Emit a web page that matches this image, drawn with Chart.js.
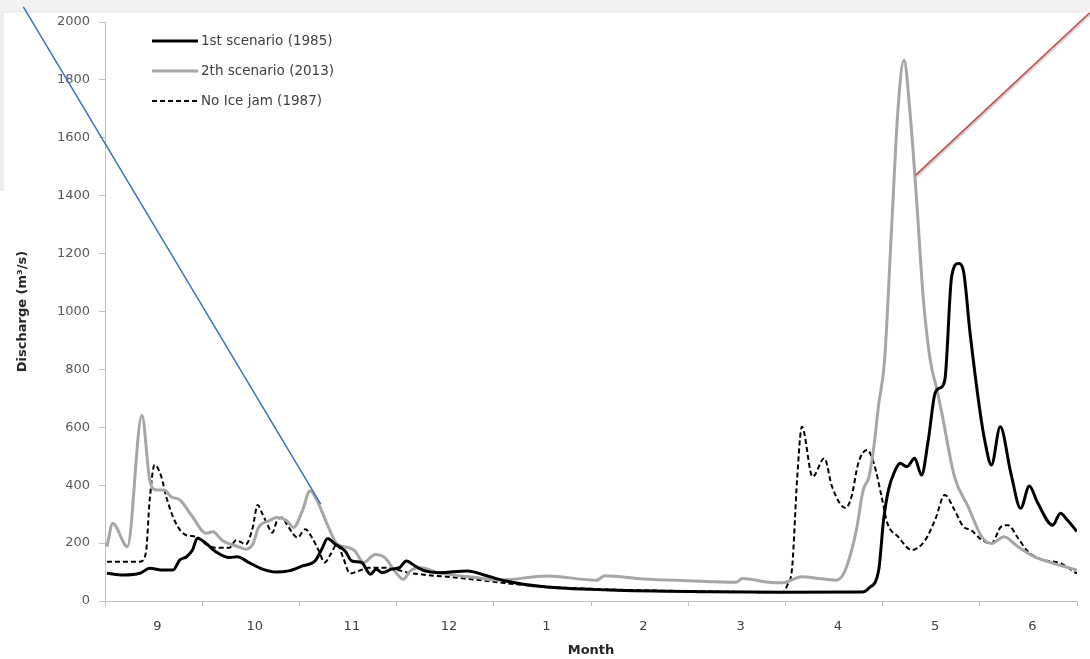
<!DOCTYPE html>
<html>
<head>
<meta charset="utf-8">
<script src="https://cdn.jsdelivr.net/npm/chart.js@4.4.1/dist/chart.umd.min.js"></script>
<style>
html,body{margin:0;padding:0;background:#fff;}
#wrap{position:relative;width:1090px;height:659px;overflow:hidden;background:#fff;}
#topband{position:absolute;left:0;top:0;width:1090px;height:11px;background:#f2f2f2;box-shadow:0 1px 2px rgba(0,0,0,0.12);}
#leftband{position:absolute;left:0;top:11px;width:4px;height:180px;background:#ededed;}
#c{position:absolute;left:0;top:0;}
</style>
</head>
<body>
<div id="wrap">
  <div id="topband"></div>
  <div id="leftband"></div>
  <canvas id="c" width="1090" height="659"></canvas>
</div>
<script>
// ---- DATA (x = months since start of September, y = discharge m3/s) ----
const monthLabels = ['9','10','11','12','1','2','3','4','5','6'];

const m1985 = [0.02,0.19,0.36,0.46,0.60,0.70,0.77,0.84,0.90,0.95,1.04,1.14,1.28,1.36,1.48,1.62,1.76,1.89,2.03,2.16,2.23,2.29,2.37,2.47,2.54,2.64,2.73,2.79,2.85,2.95,3.03,3.10,3.19,3.29,3.43,3.73,3.90,4.11,4.52,5.19,6.22,6.97,7.79,7.86,7.96,8.01,8.06,8.13,8.18,8.25,8.33,8.40,8.47,8.54,8.59,8.64,8.71,8.78,8.83,8.90,9.00,9.05,9.12,9.21,9.32,9.42,9.51,9.59,9.75,9.83,9.90,10.0];
const q1985 = [96,90,96,113,107,107,142,153,176,217,199,170,150,153,133,110,100,104,121,138,179,216,196,173,138,133,92,110,98,110,115,138,121,104,98,104,90,70,49,38,32,30,31,45,107,280,383,452,476,464,493,435,556,718,736,763,1120,1166,1143,925,660,556,470,602,441,320,397,343,262,303,280,240];

const m2013 = [0.02,0.08,0.23,0.38,0.46,0.53,0.61,0.68,0.77,0.90,1.04,1.11,1.21,1.35,1.45,1.52,1.58,1.69,1.77,1.87,1.94,2.03,2.11,2.20,2.30,2.39,2.51,2.57,2.66,2.78,2.88,2.98,3.07,3.14,3.25,3.43,3.83,4.04,4.55,5.06,5.14,5.54,6.00,6.49,6.56,6.83,6.97,7.17,7.34,7.52,7.58,7.63,7.73,7.80,7.86,7.91,7.96,8.02,8.09,8.16,8.22,8.28,8.35,8.42,8.49,8.56,8.61,8.74,8.88,9.02,9.12,9.25,9.39,9.56,9.76,10.0];
const q2013 = [188,268,188,642,418,383,383,360,349,291,234,239,208,190,179,196,254,277,288,277,254,311,381,334,254,196,184,173,133,161,150,104,75,104,115,98,80,72,86,72,87,76,70,65,78,65,63,84,78,72,84,118,245,383,429,533,680,830,1271,1707,1869,1696,1385,1040,832,729,648,429,326,222,199,222,188,153,130,107];

const m1987 = [0.02,0.36,0.42,0.46,0.51,0.58,0.63,0.73,0.83,0.94,1.04,1.14,1.28,1.35,1.45,1.52,1.57,1.62,1.67,1.72,1.77,1.82,1.89,1.98,2.06,2.13,2.20,2.26,2.32,2.39,2.45,2.52,2.61,2.71,2.88,2.98,3.12,3.25,3.60,3.94,4.11,4.52,5.19,6.22,6.97,7.02,7.07,7.12,7.17,7.28,7.40,7.48,7.62,7.68,7.75,7.84,7.91,7.99,8.05,8.16,8.30,8.44,8.54,8.64,8.74,8.83,8.91,9.02,9.12,9.22,9.29,9.39,9.49,9.63,9.83,10.0];
const q1987 = [136,136,165,349,470,429,360,268,228,222,196,184,184,210,196,254,332,300,265,236,277,288,254,219,248,219,173,133,161,196,150,95,104,115,115,110,98,92,81,69,62,50,40,33,30,55,118,418,602,429,493,395,321,360,476,522,476,360,268,222,176,211,280,366,314,257,245,211,199,257,262,219,173,144,130,95];

const seriesLabels = ['1st scenario (1985)', '2th scenario (2013)', 'No Ice jam (1987)'];

// decorative annotation strokes, given in data units (month, discharge)
const annotationSegments = [
  {from:[-0.84, 2052], to:[2.22, 335], color:'#3f6fc2', shadow:false},
  {from:[8.34, 1471], to:[10.13, 2032], color:'#c0504d', shadow:true}
];

// ---- helpers ----
const toPoints = (xs, ys) => xs.map((x, i) => ({x: x, y: ys[i]}));
const isInt = v => Math.abs(v - Math.round(v)) < 1e-6;
const xTickValues = [];
for (let i = 0; i <= monthLabels.length; i++) {
  xTickValues.push(i);
  if (i < monthLabels.length) xTickValues.push(i + 0.54);
}

Chart.defaults.font.family = "'DejaVu Sans', sans-serif";

const insideLegend = {
  id: 'insideLegend',
  afterDraw(chart) {
    const ctx = chart.ctx;
    const a = chart.chartArea;
    ctx.save();
    chart.data.datasets.forEach((ds, i) => {
      const y = a.top + 19 + 30 * i;
      ctx.beginPath();
      ctx.setLineDash(ds.borderDash || []);
      ctx.lineWidth = ds.borderWidth;
      ctx.strokeStyle = ds.borderColor;
      ctx.moveTo(a.left + 47, y);
      ctx.lineTo(a.left + 93, y);
      ctx.stroke();
      ctx.setLineDash([]);
      ctx.fillStyle = '#404040';
      ctx.font = "13.5px 'DejaVu Sans'";
      ctx.textBaseline = 'middle';
      ctx.textAlign = 'left';
      ctx.fillText(ds.label, a.left + 96, y);
    });
    ctx.restore();
  }
};

const annotationPlugin = {
  id: 'annotationPlugin',
  afterDraw(chart) {
    const ctx = chart.ctx;
    const xs = chart.scales.x, ys = chart.scales.y;
    ctx.save();
    annotationSegments.forEach(s => {
      ctx.beginPath();
      ctx.lineWidth = 1.5;
      ctx.strokeStyle = s.color;
      if (s.shadow) {
        ctx.shadowColor = 'rgba(0,0,0,0.35)';
        ctx.shadowBlur = 2;
        ctx.shadowOffsetX = 1;
        ctx.shadowOffsetY = 1;
      } else {
        ctx.shadowColor = 'rgba(0,0,0,0)';
      }
      ctx.moveTo(xs.getPixelForValue(s.from[0]), ys.getPixelForValue(s.from[1]));
      ctx.lineTo(xs.getPixelForValue(s.to[0]), ys.getPixelForValue(s.to[1]));
      ctx.stroke();
    });
    ctx.restore();
  }
};

new Chart(document.getElementById('c').getContext('2d'), {
  type: 'line',
  data: {
    datasets: [
      {label: seriesLabels[0], data: toPoints(m1985, q1985), borderColor: '#000000', borderWidth: 3,
       pointRadius: 0, fill: false, cubicInterpolationMode: 'monotone'},
      {label: seriesLabels[1], data: toPoints(m2013, q2013), borderColor: '#a6a6a6', borderWidth: 3,
       pointRadius: 0, fill: false, cubicInterpolationMode: 'monotone'},
      {label: seriesLabels[2], data: toPoints(m1987, q1987), borderColor: '#000000', borderWidth: 2,
       borderDash: [5, 3], pointRadius: 0, fill: false, cubicInterpolationMode: 'monotone'}
    ]
  },
  options: {
    responsive: false,
    animation: false,
    events: [],
    layout: {padding: {top: 22, right: 7, bottom: 0, left: 0}},
    plugins: {legend: {display: false}, tooltip: {enabled: false}},
    scales: {
      x: {
        type: 'linear', min: 0, max: 10,
        afterBuildTicks: ax => { ax.ticks = xTickValues.map(v => ({value: v})); },
        afterFit: ax => { ax.height = 58; },
        grid: {display: true, drawOnChartArea: false, drawTicks: true, tickLength: 5,
               tickWidth: 1,
               tickColor: c => (c.tick && isInt(c.tick.value)) ? '#bfbfbf' : 'rgba(0,0,0,0)'},
        border: {display: true, color: '#bfbfbf', width: 1},
        ticks: {autoSkip: false, maxRotation: 0, padding: 13, color: '#404040',
                font: {size: 13},
                callback: v => isInt(v) ? '' : monthLabels[Math.floor(v)]},
        title: {display: true, text: 'Month', color: '#262626',
                font: {size: 13, weight: 'bold'}, padding: {top: 0, bottom: 1}}
      },
      y: {
        min: 0, max: 2000,
        afterFit: ax => { ax.width = 105; },
        grid: {display: true, drawOnChartArea: false, drawTicks: true, tickLength: 6, tickColor: '#bfbfbf'},
        border: {display: true, color: '#bfbfbf', width: 1},
        ticks: {stepSize: 200, padding: 9, color: '#595959', font: {size: 13},
                callback: v => String(v)},
        title: {display: true, text: 'Discharge (m³/s)', color: '#262626',
                font: {size: 13, weight: 'bold'}, padding: {top: 15, bottom: 0}}
      }
    }
  },
  plugins: [insideLegend, annotationPlugin]
});
</script>
</body>
</html>
